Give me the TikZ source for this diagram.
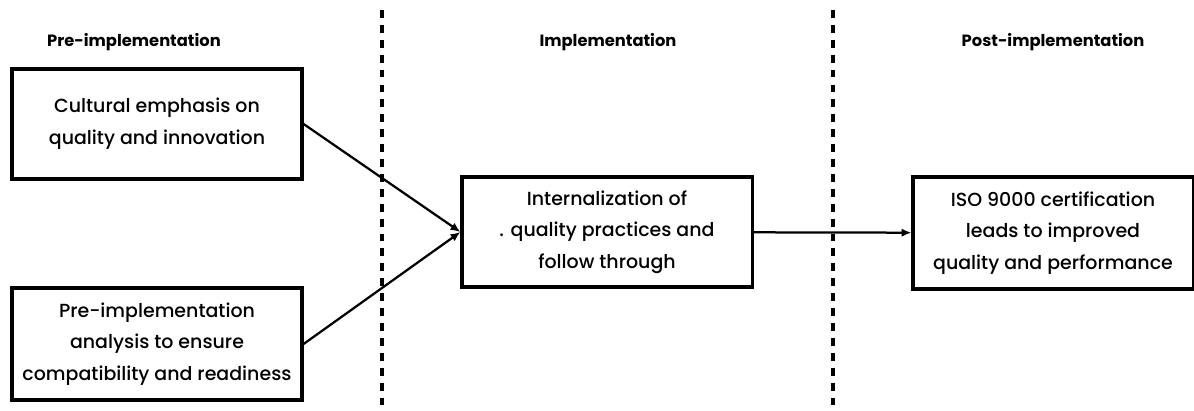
\documentclass[tikz,border=0pt]{standalone}
\usepackage{fontspec}
\setmainfont{Poppins}[UprightFont=* Medium,BoldFont=* Bold]
\usetikzlibrary{arrows.meta,positioning}

\begin{document}
\begin{tikzpicture}[x=0.025cm,y=-0.025cm,>={Latex[length=7pt,width=6pt]},
  font=\fontsize{13.5}{22.5}\selectfont,
  box/.style={draw,line width=2.2pt,minimum width=7.25cm,minimum height=2.75cm,align=center,inner sep=0pt},
  phase/.style={font=\fontsize{11.6}{16}\selectfont\bfseries},
  divider/.style={line width=2.2pt,dash pattern=on 5.6pt off 5pt},
  link/.style={->,line width=1.6pt}]
\useasboundingbox (0,0) rectangle (1194,411);
% phase headings
\node[phase] (pre) at (134,42) {Pre-implementation};
\node[phase] (impl) at (608,42) {Implementation};
\node[phase] (post) at (1053,42) {Post-implementation};
% dividers
\coordinate (d1top) at (382,10);
\coordinate (d1bot) at (382,411);
\coordinate (d2top) at (833,10);
\coordinate (d2bot) at (833,411);
\draw[divider] (d1top) -- (d1bot);
\draw[divider] (d2top) -- (d2bot);
% boxes
\node[box] (culture) at (157,124) {Cultural emphasis on\\quality and innovation};
\node[box,minimum height=2.8cm] (analysis) at (157,344) {Pre-implementation\\analysis to ensure\\compatibility and readiness};
\node[box] (internal) at (607,232) {Internalization of\\. quality practices and\\follow through};
\node[box,minimum width=7cm,minimum height=2.8cm] (iso) at (1053,233) {ISO 9000 certification\\leads to improved\\quality and performance};
% connectors
\draw[link] (culture.east) -- (internal.west);
\draw[link] (analysis.east) -- (internal.west);
\draw[link] (internal) -- (iso);
\end{tikzpicture}
\end{document}
